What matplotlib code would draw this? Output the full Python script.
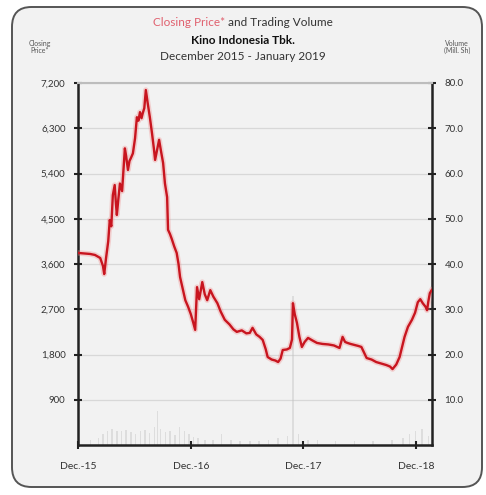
import matplotlib
matplotlib.use("Agg")
import matplotlib.pyplot as plt
from matplotlib.patches import FancyBboxPatch
import pandas as pd

# Closing price (IDR), Kino Indonesia Tbk.
price_dates = [
    "2015-12-01", "2015-12-20", "2016-01-09", "2016-01-25", "2016-02-11", "2016-02-20",
    "2016-02-24", "2016-03-01", "2016-03-08", "2016-03-13", "2016-03-18", "2016-03-23",
    "2016-03-29", "2016-04-02", "2016-04-05", "2016-04-10", "2016-04-15", "2016-04-22",
    "2016-05-01", "2016-05-05", "2016-05-11", "2016-05-16", "2016-05-20", "2016-05-27",
    "2016-06-03", "2016-06-09", "2016-06-14", "2016-06-19", "2016-06-24", "2016-06-28",
    "2016-07-03", "2016-07-08", "2016-07-14", "2016-07-21", "2016-07-28", "2016-08-03",
    "2016-08-07", "2016-08-13", "2016-08-20", "2016-08-26", "2016-09-02", "2016-09-08",
    "2016-09-15", "2016-09-18", "2016-09-24", "2016-09-30", "2016-10-08", "2016-10-16",
    "2016-10-22", "2016-10-27", "2016-11-03", "2016-11-13", "2016-11-22", "2016-12-01",
    "2016-12-08", "2016-12-15", "2016-12-21", "2016-12-28", "2017-01-07", "2017-01-15",
    "2017-01-23", "2017-02-02", "2017-02-12", "2017-02-25", "2017-03-08", "2017-03-21",
    "2017-04-05", "2017-04-18", "2017-04-29", "2017-05-15", "2017-05-30", "2017-06-10",
    "2017-06-19", "2017-07-01", "2017-07-12", "2017-07-22", "2017-08-01", "2017-08-07",
    "2017-08-20", "2017-09-01", "2017-09-10", "2017-09-18", "2017-09-25", "2017-10-08",
    "2017-10-18", "2017-10-25", "2017-10-28", "2017-11-03", "2017-11-10", "2017-11-18",
    "2017-11-26", "2017-12-05", "2017-12-16", "2017-12-30", "2018-01-14", "2018-02-01",
    "2018-02-20", "2018-03-10", "2018-03-28", "2018-04-07", "2018-04-15", "2018-04-23",
    "2018-05-03", "2018-05-16", "2018-05-28", "2018-06-07", "2018-06-24", "2018-07-10",
    "2018-07-25", "2018-08-10", "2018-08-27", "2018-09-08", "2018-09-16", "2018-09-28",
    "2018-10-09", "2018-10-17", "2018-10-25", "2018-11-05", "2018-11-18", "2018-11-28",
    "2018-12-07", "2018-12-15", "2018-12-23", "2019-01-01", "2019-01-06", "2019-01-10",
    "2019-01-15", "2019-01-21",
]
price_values = [
    3820, 3810, 3800, 3780, 3720, 3560,
    3400, 3720, 4050, 4475, 4350, 4970,
    5170, 4800, 4575, 4900, 5200, 5050,
    5900, 5750, 5470, 5650, 5700, 5800,
    6100, 6520, 6450, 6620, 6500, 6600,
    6700, 7060, 6800, 6520, 6200, 5900,
    5670, 5850, 6070, 5850, 5610, 5200,
    4930, 4280, 4200, 4100, 3950, 3820,
    3600, 3340, 3150, 2880, 2750, 2600,
    2450, 2290, 3140, 2900, 3240, 3000,
    2880, 3080, 2950, 2820, 2650, 2490,
    2400, 2300, 2250, 2280, 2220, 2230,
    2330, 2200, 2150, 2090, 1900, 1750,
    1700, 1680, 1650, 1720, 1890, 1900,
    1930, 2100, 2820, 2600, 2430, 2150,
    1950, 2050, 2130, 2080, 2030, 2010,
    2000, 1980, 1930, 2150, 2050, 2030,
    2010, 1990, 1970, 1950, 1730, 1700,
    1650, 1620, 1590, 1560, 1510, 1600,
    1750, 1950, 2150, 2350, 2490, 2630,
    2840, 2900, 2820, 2750, 2680, 2850,
    3020, 3080,
]

# Trading volume (million shares)
volume_dates = [
    "2016-01-10", "2016-02-05", "2016-02-20", "2016-03-05", "2016-03-20", "2016-04-05",
    "2016-04-20", "2016-05-05", "2016-05-20", "2016-06-05", "2016-06-20", "2016-07-05",
    "2016-07-20", "2016-08-05", "2016-08-15", "2016-08-25", "2016-09-10", "2016-09-25",
    "2016-10-10", "2016-10-25", "2016-11-10", "2016-11-25", "2016-12-10", "2016-12-25",
    "2017-01-15", "2017-02-10", "2017-03-10", "2017-04-10", "2017-05-10", "2017-06-10",
    "2017-07-10", "2017-08-10", "2017-09-10", "2017-10-10", "2017-10-28", "2017-11-15",
    "2017-12-15", "2018-01-15", "2018-03-15", "2018-05-15", "2018-07-15", "2018-09-15",
    "2018-10-20", "2018-11-10", "2018-11-30", "2018-12-20", "2019-01-10",
]
volume_values = [
    1.0, 1.5, 2.5, 3.0, 3.5, 3.2,
    3.0, 3.4, 2.8, 2.5, 3.0, 3.3,
    2.6, 4.0, 7.5, 3.5, 2.8, 3.0,
    2.2, 4.0, 3.0, 2.5, 1.8, 1.5,
    1.2, 1.0, 2.5, 1.0, 0.8, 0.8,
    0.8, 1.0, 1.5, 2.0, 33.0, 2.5,
    1.2, 1.0, 0.8, 0.8, 0.8, 1.0,
    1.5, 2.5, 3.0, 3.5, 2.0,
]

y_ticks = [900, 1800, 2700, 3600, 4500, 5400, 6300, 7200]
y_tick_labels = ["900", "1,800", "2,700", "3,600", "4,500", "5,400", "6,300", "7,200"]
v_ticks = [10, 20, 30, 40, 50, 60, 70, 80]
v_tick_labels = ["10.0", "20.0", "30.0", "40.0", "50.0", "60.0", "70.0", "80.0"]
x_ticks = ["2015-12-01", "2016-12-01", "2017-12-01", "2018-12-01"]
x_tick_labels = ["Dec.-15", "Dec.-16", "Dec.-17", "Dec.-18"]

FONT = "Lato"
BG = "#f2f2f2"
TXT = "#333333"
RED = "#c8151f"

fig = plt.figure(figsize=(4.86, 4.95), dpi=100)
fig.patch.set_facecolor("white")

# rounded frame around the whole chart
frame = FancyBboxPatch((12 / 486, 8 / 495), 470 / 486, 480 / 495,
                       boxstyle="round,pad=0,rounding_size=0.04",
                       transform=fig.transFigure, facecolor=BG,
                       edgecolor="#555555", linewidth=1.4, zorder=-5)
fig.patches.append(frame)

ax = fig.add_axes([78 / 486, 1 - 445 / 495, (432 - 78) / 486, (445 - 83) / 495])
axv = ax.twinx()

pdates = pd.to_datetime(price_dates)
vdates = pd.to_datetime(volume_dates)

# volume bars on the right-hand scale, behind the price line
axv.set_facecolor(BG)
axv.bar(vdates, volume_values, width=5, color="#c4c4c4", alpha=0.45,
        linewidth=0, zorder=1)
axv.set_ylim(0, 80)

# price line with a soft halo
ax.plot(pdates, price_values, color="#f08a8a", lw=4.0, alpha=0.35,
        solid_joinstyle="round", zorder=3)
ax.plot(pdates, price_values, color=RED, lw=1.7,
        solid_joinstyle="round", zorder=4)
axv.set_zorder(1)
ax.set_zorder(2)
ax.patch.set_visible(False)

ax.set_ylim(0, 7200)
ax.set_xlim(pd.Timestamp("2015-12-01"), pd.Timestamp("2019-01-22"))
ax.set_yticks(y_ticks)
ax.set_yticklabels(y_tick_labels)
axv.set_yticks(v_ticks)
axv.set_yticklabels(v_tick_labels)
ax.set_xticks(pd.to_datetime(x_ticks))
ax.set_xticklabels(x_tick_labels)

# horizontal grid drawn on the back axes so it sits under the bars
for yv in v_ticks:
    axv.axhline(yv, color="#d8d8d8", lw=0.9, zorder=0)

for a in (ax, axv):
    for s in a.spines.values():
        s.set_visible(False)
ax.spines["left"].set_visible(True)
ax.spines["bottom"].set_visible(True)
ax.spines["top"].set_visible(True)
axv.spines["right"].set_visible(True)
for s in ("left", "bottom"):
    ax.spines[s].set_color("#222222")
    ax.spines[s].set_linewidth(1.8)
axv.spines["right"].set_color("#222222")
axv.spines["right"].set_linewidth(1.8)
ax.spines["top"].set_color("#bdbdbd")
ax.spines["top"].set_linewidth(1.5)

tick_kw = dict(direction="inout", length=6, width=1.5, color="#222222",
               labelcolor=TXT)
ax.tick_params(axis="y", labelsize=7, pad=6, **tick_kw)
axv.tick_params(axis="y", labelsize=7, pad=6, **tick_kw)
ax.tick_params(axis="x", labelsize=7.5, pad=9, **tick_kw)
for lab in ax.get_xticklabels() + ax.get_yticklabels() + axv.get_yticklabels():
    lab.set_fontfamily(FONT)

# axis captions
fig.text(40 / 486, 1 - 47 / 495, "Closing\nPrice*", ha="center", va="center",
         fontsize=5, color="#555555", family=FONT, linespacing=1.1)
fig.text(457 / 486, 1 - 47 / 495, "Volume\n(Mill. Sh)", ha="center", va="center",
         fontsize=5, color="#555555", family=FONT, linespacing=1.1)

# title block: first line in two colours
fig.canvas.draw()
renderer = fig.canvas.get_renderer()
t1 = fig.text(0, 1 - 22 / 495, "Closing Price*", fontsize=8.5, color="#e0606e",
              family=FONT, va="center", ha="left")
t2 = fig.text(0, 1 - 22 / 495, " and Trading Volume", fontsize=8.5, color=TXT,
              family=FONT, va="center", ha="left")
w1 = t1.get_window_extent(renderer).width
w2 = t2.get_window_extent(renderer).width
x0 = (fig.bbox.width / 2 - (w1 + w2) / 2) / fig.bbox.width
t1.set_x(x0)
t2.set_x(x0 + w1 / fig.bbox.width)
fig.text(0.5, 1 - 40 / 495, "Kino Indonesia Tbk.", fontsize=8.5, color="#111111",
         family=FONT, weight="bold", ha="center", va="center")
fig.text(0.5, 1 - 57 / 495, "December 2015 - January 2019", fontsize=8.5,
         color=TXT, family=FONT, ha="center", va="center")

fig.savefig("out.png", dpi=100, facecolor="white")
